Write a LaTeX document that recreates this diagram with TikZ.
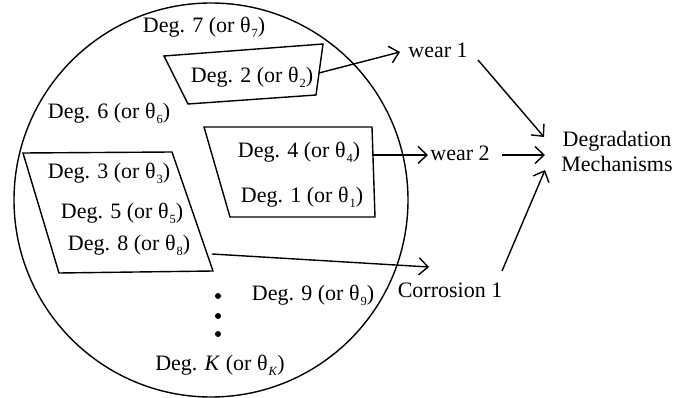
\documentclass[tikz,border=0pt]{standalone}
\usepackage{fontspec}
\setmainfont{Liberation Serif}
\usetikzlibrary{arrows.meta}
% theta with a lowered, smaller index
\newcommand{\thsub}[1]{θ\kern1pt\raisebox{-0.5ex}{\fontsize{12.5}{12}\selectfont #1}}
\newcommand{\deglab}[1]{Deg. #1 (or \thsub{#1})}
\begin{document}
\begin{tikzpicture}[x=1pt,y=-1pt,
  font=\fontsize{22}{25}\selectfont,
  line width=1.4pt,
  lab/.style={inner sep=0pt, anchor=center},
  arr/.style={-{Straight Barb[length=9pt,width=17pt,line width=1.4pt]}},
  dot/.style={circle, fill=black, inner sep=0pt, minimum size=6pt}]
\useasboundingbox (0,0) rectangle (698,398);

% the pool of degradation variables
\node[draw, circle, minimum size=394pt, inner sep=0pt] (pool) at (211,200) {};

% groups of variables
\draw (164,56) -- (323,44) -- (316,95) -- (188,104) -- cycle;
\draw (204,127) -- (372,127) -- (375,217) -- (230,217) -- cycle;
\draw (23,153) -- (172,152) -- (213,271) -- (59,273) -- cycle;

% variable labels
\node[lab] (d7) at (204,27) {\deglab{7}};
\node[lab] (d2) at (252,77) {\deglab{2}};
\node[lab] (d6) at (109,113) {\deglab{6}};
\node[lab] (d4) at (299,152) {\deglab{4}};
\node[lab] (d1) at (302,197) {\deglab{1}};
\node[lab] (d3) at (109,173) {\deglab{3}};
\node[lab] (d5) at (122,213) {\deglab{5}};
\node[lab] (d8) at (129,245) {\deglab{8}};
\node[lab] (d9) at (313,295) {\deglab{9}};
\node[lab] (dK) at (220,365) {Deg. \textit{K} (or θ\kern1pt\raisebox{-0.5ex}{\fontsize{12.5}{12}\selectfont\textit{K}})};

% vertical ellipsis
\node[dot] (e1) at (218,296) {};
\node[dot] (e2) at (218,316) {};
\node[dot] (e3) at (218,334) {};

% mechanisms
\node[lab] (w1) at (438,50) {wear 1};
\node[lab] (w2) at (460,153) {wear 2};
\node[lab] (c1) at (450,290) {Corrosion 1};
\node[lab, align=center] (dm) at (617,151) {Degradation\\Mechanisms};

% connector end points
\coordinate (g2out) at (319,73);
\coordinate (g2in) at (400,52);
\coordinate (g4out) at (372,155);
\coordinate (g4in) at (428,155);
\coordinate (g3out) at (212,254);
\coordinate (g3in) at (429,267);
\coordinate (w1out) at (478,60);
\coordinate (w2out) at (502,155);
\coordinate (c1out) at (502,271);
\coordinate (dmin1) at (544,137);
\coordinate (dmin2) at (545,155);
\coordinate (dmin3) at (545,170);

\draw[arr] (g2out) -- (g2in);
\draw[arr] (g4out) -- (g4in);
\draw[arr] (g3out) -- (g3in);
\draw[arr] (w1out) -- (dmin1);
\draw[arr] (w2out) -- (dmin2);
\draw[arr] (c1out) -- (dmin3);
\end{tikzpicture}
\end{document}
